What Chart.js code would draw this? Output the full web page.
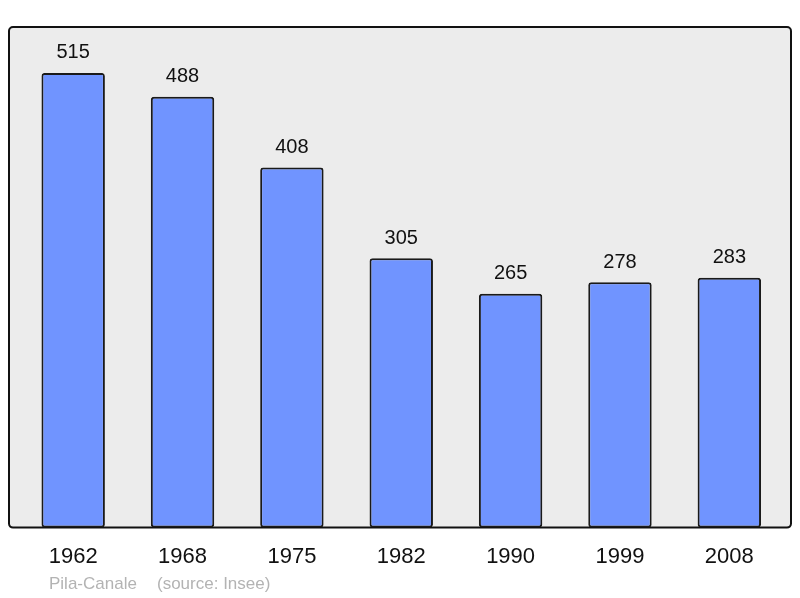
<!DOCTYPE html>
<html lang="fr">
<head>
  <meta charset="UTF-8">
  <title>Population Pila-Canale</title>
  <script src="https://cdn.jsdelivr.net/npm/chart.js"></script>
  <style>
    html, body { margin: 0; padding: 0; background: #fff; }
    #wrap { width: 800px; height: 598px; }
  </style>
</head>
<body>
  <div id="wrap"><canvas id="myChart" width="800" height="598"></canvas></div>

  <script>
    const years = ['1962', '1968', '1975', '1982', '1990', '1999', '2008'];
    const population = [515, 488, 408, 305, 265, 278, 283];
    const footerText = ['Pila-Canale', '(source: Insee)'];

    // grey panel with black frame behind the bars
    const panel = {
      id: 'panel',
      beforeDatasetsDraw(chart) {
        const a = chart.chartArea;
        const c = chart.ctx;
        const x0 = a.left - 9.5, x1 = a.right + 7, y0 = a.top, y1 = a.bottom;
        c.save();
        c.beginPath();
        c.roundRect(x0, y0, x1 - x0, y1 - y0, 4);
        c.fillStyle = '#ececec';
        c.fill();
        c.lineWidth = 2;
        c.strokeStyle = '#111';
        c.stroke();
        c.restore();
      }
    };

    const valueLabels = {
      id: 'valueLabels',
      afterDatasetsDraw(chart) {
        const c = chart.ctx;
        const meta = chart.getDatasetMeta(0);
        c.save();
        c.font = '20px "Liberation Sans", Arial, sans-serif';
        c.fillStyle = '#111';
        c.textAlign = 'center';
        c.textBaseline = 'middle';
        meta.data.forEach(function(bar, i) {
          c.fillText(chart.data.datasets[0].data[i], bar.x, bar.y - 20);
        });
        // footer
        c.font = '17px "Liberation Sans", Arial, sans-serif';
        c.fillStyle = '#b3b3b3';
        c.textAlign = 'left';
        c.fillText(footerText[0], 49, 584);
        c.fillText(footerText[1], 157, 584);
        c.restore();
      }
    };

    const ctx = document.getElementById('myChart').getContext('2d');
    const chart = new Chart(ctx, {
      type: 'bar',
      data: {
        labels: years,
        datasets: [{
          data: population,
          backgroundColor: '#7094ff',
          borderColor: '#1a1a1a',
          borderWidth: 2,
          borderRadius: 3,
          borderSkipped: false,
          barPercentage: 0.58,
          categoryPercentage: 1
        }]
      },
      options: {
        responsive: false,
        animation: false,
        layout: { padding: { left: 18.5, right: 16, top: 27, bottom: 12 } },
        plugins: {
          legend: { display: false },
          tooltip: { enabled: false }
        },
        scales: {
          x: {
            grid: { display: false, drawTicks: false },
            border: { display: false },
            ticks: {
              color: '#111',
              padding: 16,
              font: { size: 22, family: '"Liberation Sans", Arial, sans-serif' }
            }
          },
          y: {
            display: false,
            min: 0,
            max: 567
          }
        }
      },
      plugins: [panel, valueLabels]
    });
  </script>
</body>
</html>
